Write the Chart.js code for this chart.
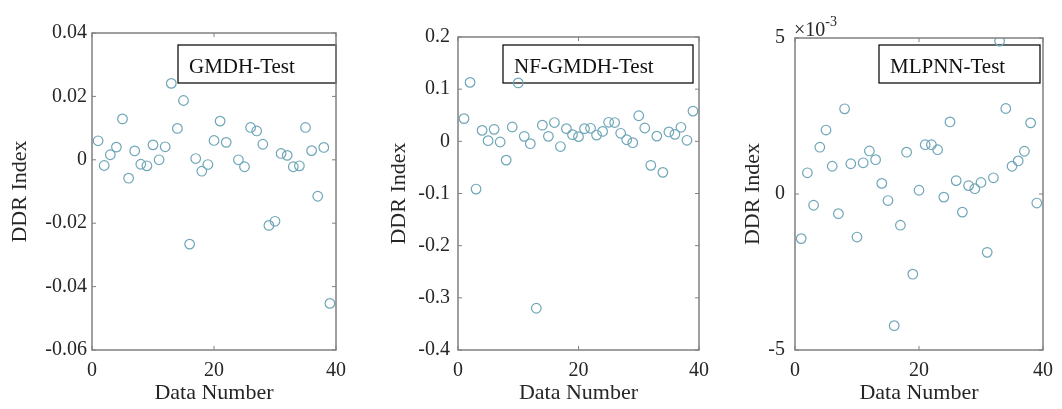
<!DOCTYPE html>
<html>
<head>
<meta charset="utf-8">
<script src="https://cdn.jsdelivr.net/npm/chart.js@4"></script>
<style>
  body { margin: 0; background: #fff; }
  #wrap { position: relative; width: 1062px; height: 409px; }
  canvas { position: absolute; top: 0; }
</style>
</head>
<body>
<div id="wrap">
  <canvas id="gmdhChart" width="355" height="409" style="left:0px"></canvas>
  <canvas id="nfChart" width="363" height="409" style="left:355px"></canvas>
  <canvas id="mlpChart" width="344" height="409" style="left:718px"></canvas>
</div>
<script>
// Data
const dataNumber = [1, 2, 3, 4, 5, 6, 7, 8, 9, 10, 11, 12, 13, 14, 15, 16, 17, 18, 19, 20,
  21, 22, 23, 24, 25, 26, 27, 28, 29, 30, 31, 32, 33, 34, 35, 36, 37, 38, 39];

// point 23 is not visible in the original (sits behind the legend), so it's left empty
const gmdhDdr = [0.0060, -0.0018, 0.0016, 0.0040, 0.0129, -0.0058, 0.0028, -0.0014, -0.0019, 0.0047,
  0.0000, 0.0041, 0.0241, 0.0099, 0.0187, -0.0266, 0.0004, -0.0036, -0.0015, 0.0061,
  0.0122, 0.0055, null, 0.0000, -0.0022, 0.0102, 0.0091, 0.0049, -0.0207, -0.0194,
  0.0020, 0.0014, -0.0022, -0.0019, 0.0102, 0.0029, -0.0115, 0.0039, -0.0453];

const nfGmdhDdr = [0.0435, 0.113, -0.0915, 0.021, 0.0013, 0.023, -0.0013, -0.036, 0.0275, 0.112,
  0.0096, -0.0045, -0.320, 0.031, 0.0096, 0.036, -0.010, 0.0243, 0.0128, 0.009,
  0.0243, 0.025, 0.012, 0.019, 0.0365, 0.036, 0.0154, 0.003, -0.0026, 0.049,
  0.0256, -0.046, 0.010, -0.0595, 0.018, 0.0134, 0.0269, 0.002, 0.058];

const mlpnnDdr = [-0.00143, 0.00068, -0.00036, 0.00150, 0.00205, 0.00089, -0.00063, 0.00273, 0.00097, -0.00138,
  0.00100, 0.00138, 0.00110, 0.00034, -0.00021, -0.00422, -0.00100, 0.00134, -0.00257, 0.00012,
  0.00158, 0.00158, 0.00142, -0.00010, 0.00231, 0.00043, -0.00058, 0.00027, 0.00017, 0.00037,
  -0.00187, 0.00052, 0.00490, 0.00274, 0.00089, 0.00106, 0.00137, 0.00228, -0.00029];

const xTicks = [0, 20, 40];
const gmdhTicks = [-0.06, 0.04, 0.02];    // min, max, step
const nfTicks = [-0.4, 0.2, 0.1];
const mlpTicks = [-0.005, 0.005, 0.005];

const SERIF = "'Liberation Serif', 'Times New Roman', serif";
const BOX_GRAY = '#808080';
const MARKER = '#6fa6b8';

// MATLAB-ish axes box, inward ticks, legend box and exponent label
const matlabAxes = {
  id: 'matlabAxes',
  beforeDatasetsDraw(chart, args, opts) {
    // legend box goes under the markers
    const { ctx } = chart;
    const b = opts.box;
    ctx.save();
    ctx.fillStyle = '#fff';
    ctx.fillRect(b.left, b.top, b.right - b.left, b.bottom - b.top);
    ctx.strokeStyle = '#111';
    ctx.lineWidth = 1.3;
    ctx.strokeRect(b.left, b.top, b.right - b.left, b.bottom - b.top);
    ctx.fillStyle = '#111';
    ctx.font = '21px ' + SERIF;
    ctx.textBaseline = 'alphabetic';
    ctx.textAlign = 'left';
    ctx.fillText(opts.label, b.left + 11, b.top + 28);
    ctx.restore();
  },
  afterDatasetsDraw(chart, args, opts) {
    const { ctx, chartArea: a, scales } = chart;
    ctx.save();
    ctx.strokeStyle = BOX_GRAY;
    ctx.lineWidth = 1.5;
    ctx.strokeRect(a.left, a.top, a.right - a.left, a.bottom - a.top);

    // inward ticks on all four sides
    ctx.lineWidth = 1;
    const tl = 4;
    ctx.beginPath();
    scales.x.ticks.forEach(t => {
      const px = scales.x.getPixelForValue(t.value);
      ctx.moveTo(px, a.bottom); ctx.lineTo(px, a.bottom - tl);
      ctx.moveTo(px, a.top); ctx.lineTo(px, a.top + tl);
    });
    scales.y.ticks.forEach(t => {
      const py = scales.y.getPixelForValue(t.value);
      ctx.moveTo(a.left, py); ctx.lineTo(a.left + tl, py);
      ctx.moveTo(a.right, py); ctx.lineTo(a.right - tl, py);
    });
    ctx.stroke();

    // exponent label above the axes
    if (opts.exponent) {
      ctx.fillStyle = '#262626';
      ctx.font = '20px ' + SERIF;
      ctx.textBaseline = 'alphabetic';
      ctx.textAlign = 'left';
      ctx.fillText('\u00d710', a.left - 1, a.top - 2);
      const w = ctx.measureText('\u00d710').width;
      ctx.font = '14px ' + SERIF;
      ctx.fillText(opts.exponent, a.left - 1 + w, a.top - 12);
    }
    ctx.restore();
  }
};

function createPanel(canvasId, values, yRange, fmt, lay) {
  const ctx = document.getElementById(canvasId).getContext('2d');
  return new Chart(ctx, {
    type: 'scatter',
    data: {
      datasets: [{
        data: dataNumber.map((n, i) => ({ x: n, y: values[i] })),
        pointStyle: 'circle',
        pointRadius: 4.8,
        pointBorderWidth: 1.2,
        borderColor: MARKER,
        backgroundColor: 'rgba(0,0,0,0)'
      }]
    },
    options: {
      responsive: false,
      animation: false,
      layout: { padding: { top: lay.top, right: lay.right, left: 0, bottom: 0 } },
      plugins: {
        legend: { display: false },
        tooltip: { enabled: false },
        matlabAxes: { box: lay.box, label: lay.label, exponent: lay.exponent }
      },
      scales: {
        x: {
          type: 'linear',
          min: xTicks[0],
          max: xTicks[xTicks.length - 1],
          afterBuildTicks: s => { s.ticks = xTicks.map(v => ({ value: v })); },
          grid: { display: false, drawTicks: false },
          border: { display: false },
          ticks: { padding: 9, color: '#262626', font: { family: SERIF, size: 20 }, maxRotation: 0 },
          title: { display: true, text: 'Data Number', color: '#262626',
                   font: { family: SERIF, size: 22 }, padding: { top: 0, bottom: 3 } },
          afterFit: s => { s.height = 59; }
        },
        y: {
          type: 'linear',
          min: yRange[0],
          max: yRange[1],
          ticks: { stepSize: yRange[2], padding: lay.tickPad, color: '#262626',
                   font: { family: SERIF, size: 20 }, callback: fmt },
          grid: { display: false, drawTicks: false },
          border: { display: false },
          title: { display: true, text: 'DDR Index', color: '#262626',
                   font: { family: SERIF, size: 22 }, padding: { top: lay.titlePad, bottom: 0 } },
          afterFit: s => { s.width = lay.yWidth; }
        }
      }
    },
    plugins: [matlabAxes]
  });
}

const fmtFixed = d => v => (Math.abs(v) < 1e-9 ? '0' : v.toFixed(d));

createPanel('gmdhChart', gmdhDdr, gmdhTicks, fmtFixed(2), {
  top: 33, right: 14, yWidth: 92, tickPad: 5, titlePad: 7,
  box: { left: 178, right: 336, top: 45, bottom: 83 }, label: 'GMDH-Test'
});

createPanel('nfChart', nfGmdhDdr, nfTicks, fmtFixed(1), {
  top: 37, right: 12, yWidth: 103, tickPad: 8, titlePad: 31,
  box: { left: 148, right: 338, top: 45, bottom: 83 }, label: 'NF-GMDH-Test'
});

createPanel('mlpChart', mlpnnDdr, mlpTicks, v => String(Math.round(v * 1000)), {
  top: 38, right: 14, yWidth: 77, tickPad: 10, titlePad: 22,
  box: { left: 161, right: 322, top: 45, bottom: 83 }, label: 'MLPNN-Test', exponent: '-3'
});
</script>
</body>
</html>
